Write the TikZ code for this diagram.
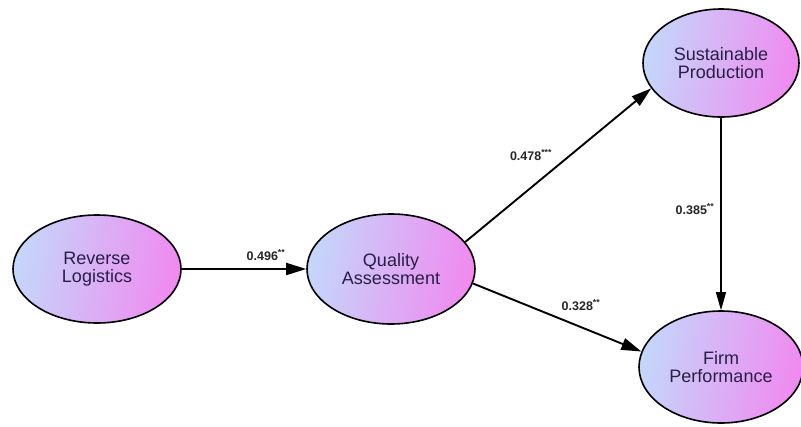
\documentclass[tikz,border=0pt]{standalone}
\usepackage{fontspec}
\setmainfont{Liberation Sans}
\usetikzlibrary{shapes,arrows.meta,positioning}
\definecolor{skyend}{RGB}{196,214,250}
\definecolor{pinkend}{RGB}{240,138,240}
\definecolor{navytext}{RGB}{40,30,70}

\begin{document}
\begin{tikzpicture}[x=1pt,y=-1pt]
			\tikzstyle{Construct} = [ellipse, draw, line width=1.6pt, left color=skyend, right color=pinkend, shading angle=80, inner sep=0pt, align=center, text=navytext, font=\fontsize{18}{18}\selectfont]
			\tikzstyle{Path}	= [line width=1.9pt, -{Triangle[length=20pt,width=12pt]}]
			\tikzstyle{Thin}	= [line width=1.3pt, -{Triangle[length=18pt,width=10pt]}]
			\tikzstyle{Coef}	= [inner sep=1pt, text=black!85, font=\bfseries\fontsize{12.5}{14}\selectfont]

			\useasboundingbox (0,0) rectangle (801,426);

			\node (rl) at (97, 269) [Construct, minimum width=168pt, minimum height=108pt] {Reverse\\Logistics};
			\node (qa) at (391, 269) [Construct, minimum width=168pt, minimum height=110pt] {Quality\\Assessment};
			\node (sp) at (721, 63) [Construct, minimum width=156pt, minimum height=108pt] {Sustainable\\Production};
			\node (fp) at (721, 367) [Construct, minimum width=164pt, minimum height=112pt] {Firm\\Performance};

			\draw [Path] (rl) to (qa);
			\draw [Path] (qa.20) to (sp.200);
			\draw [Path] (qa.350) to (fp.169);
			\draw [Thin] (sp.south) to (fp.north);

			\node (c1) at (266, 255) [Coef] {0.496\textsuperscript{**}};
			\node (c2) at (531, 155) [Coef] {0.478\textsuperscript{***}};
			\node (c3) at (581, 305) [Coef] {0.328\textsuperscript{**}};
			\node (c4) at (695, 209) [Coef] {0.385\textsuperscript{**}};
		\end{tikzpicture}
\end{document}
